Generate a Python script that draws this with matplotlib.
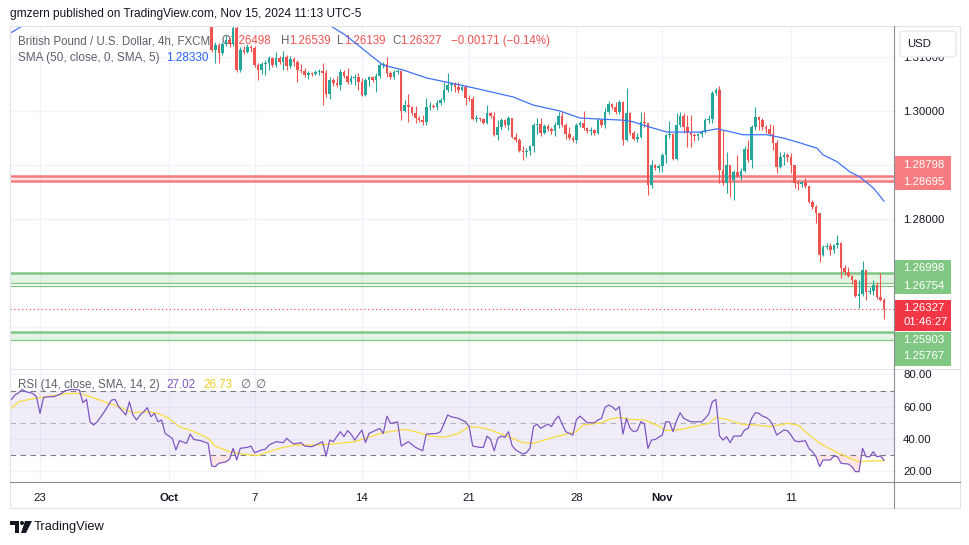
import numpy as np
import matplotlib.pyplot as plt
from matplotlib.patches import Rectangle, FancyBboxPatch, Polygon, Circle
from matplotlib.lines import Line2D
from matplotlib.transforms import IdentityTransform

plt.rcParams['font.family'] = ['Liberation Sans', 'DejaVu Sans']

W, H = 970, 545

# GBP/USD 4h candles, bar 0 = first candle of Sep 23
first_bar = 48
# closes from bar 47 to bar 236 (open of a bar = previous close)
close_px = [
    1.3168, 1.3113, 1.3122, 1.3107, 1.3124, 1.3131, 1.3124, 1.3154, 1.3076, 1.3113,
    1.3109, 1.3118, 1.3117, 1.3085, 1.3076, 1.3087, 1.3089, 1.3098, 1.3085, 1.3098,
    1.3091, 1.3100, 1.3083, 1.3096, 1.3091, 1.3076, 1.3075, 1.3067, 1.3070, 1.3069,
    1.3072, 1.3074, 1.3070, 1.3031, 1.3057, 1.3052, 1.3048, 1.3072, 1.3065, 1.3054,
    1.3061, 1.3063, 1.3054, 1.3030, 1.3057, 1.3063, 1.3057, 1.3065, 1.3085, 1.3087,
    1.3070, 1.3063, 1.3072, 1.3074, 1.3000, 1.3011, 1.3007, 1.2996, 1.2987, 1.2983,
    1.2980, 1.3007, 1.3009, 1.3008, 1.3015, 1.3020, 1.3039, 1.3048, 1.3050, 1.3044,
    1.3039, 1.3044, 1.3024, 1.3022, 1.2985, 1.2987, 1.2985, 1.2978, 1.2996, 1.2991,
    1.2956, 1.2970, 1.2983, 1.2974, 1.2987, 1.2952, 1.2946, 1.2926, 1.2924, 1.2926,
    1.2935, 1.2974, 1.2976, 1.2959, 1.2972, 1.2967, 1.2963, 1.2974, 1.2991, 1.2974,
    1.2957, 1.2950, 1.2946, 1.2974, 1.2978, 1.2969, 1.2963, 1.2965, 1.2959, 1.2983,
    1.2974, 1.2998, 1.3013, 1.3007, 1.2998, 1.3017, 1.2946, 1.2996, 1.2959, 1.2948,
    1.2952, 1.2980, 1.2978, 1.2863, 1.2900, 1.2894, 1.2898, 1.2919, 1.2956, 1.2957,
    1.2911, 1.2974, 1.2991, 1.2970, 1.2959, 1.2956, 1.2954, 1.2957, 1.2961, 1.2983,
    1.2985, 1.3033, 1.3039, 1.2891, 1.2867, 1.2900, 1.2872, 1.2887, 1.2880, 1.2889,
    1.2930, 1.2909, 1.2970, 1.2989, 1.2983, 1.2970, 1.2967, 1.2957, 1.2941, 1.2896,
    1.2915, 1.2919, 1.2915, 1.2900, 1.2867, 1.2865, 1.2869, 1.2861, 1.2831, 1.2822,
    1.2811, 1.2733, 1.2748, 1.2750, 1.2743, 1.2752, 1.2756, 1.2709, 1.2702, 1.2694,
    1.2687, 1.2657, 1.2661, 1.2706, 1.2665, 1.2667, 1.2678, 1.2656, 1.26498, 1.26327,
]
# highs and lows from bar 48 to bar 236
high_px = [
    1.3168, 1.3128, 1.3126, 1.3128, 1.3141, 1.3135, 1.3168, 1.3157, 1.3119, 1.3120,
    1.3124, 1.3122, 1.3120, 1.3089, 1.3091, 1.3094, 1.3102, 1.3100, 1.3109, 1.3102,
    1.3111, 1.3104, 1.3102, 1.3100, 1.3094, 1.3087, 1.3080, 1.3074, 1.3072, 1.3076,
    1.3078, 1.3089, 1.3076, 1.3063, 1.3061, 1.3065, 1.3078, 1.3076, 1.3080, 1.3067,
    1.3069, 1.3070, 1.3061, 1.3061, 1.3065, 1.3065, 1.3070, 1.3089, 1.3091, 1.3100,
    1.3074, 1.3076, 1.3078, 1.3076, 1.3020, 1.3031, 1.3009, 1.3009, 1.2991, 1.2993,
    1.3024, 1.3017, 1.3013, 1.3020, 1.3024, 1.3054, 1.3070, 1.3054, 1.3054, 1.3054,
    1.3050, 1.3048, 1.3030, 1.3028, 1.2993, 1.2989, 1.2987, 1.3011, 1.2998, 1.2998,
    1.2983, 1.2987, 1.2985, 1.2991, 1.2987, 1.2959, 1.2950, 1.2935, 1.2931, 1.2937,
    1.2978, 1.2987, 1.2987, 1.2976, 1.2976, 1.2970, 1.2980, 1.2998, 1.2998, 1.2978,
    1.2970, 1.2954, 1.2978, 1.2981, 1.3000, 1.2970, 1.2970, 1.2967, 1.2987, 1.2985,
    1.3006, 1.3019, 1.3015, 1.3017, 1.3020, 1.3019, 1.3043, 1.2998, 1.2963, 1.2959,
    1.2998, 1.2998, 1.2978, 1.2909, 1.2902, 1.2902, 1.2922, 1.2957, 1.2981, 1.2959,
    1.2996, 1.2998, 1.2996, 1.2993, 1.2993, 1.2959, 1.2959, 1.2965, 1.2987, 1.2993,
    1.3037, 1.3043, 1.3046, 1.2965, 1.2924, 1.2900, 1.2891, 1.2919, 1.2894, 1.2935,
    1.2946, 1.2974, 1.3007, 1.2991, 1.2987, 1.2974, 1.2976, 1.2974, 1.2946, 1.2924,
    1.2924, 1.2922, 1.2922, 1.2900, 1.2872, 1.2870, 1.2876, 1.2861, 1.2835, 1.2826,
    1.2811, 1.2752, 1.2756, 1.2756, 1.2754, 1.2770, 1.2757, 1.2715, 1.2711, 1.2696,
    1.2689, 1.2687, 1.2722, 1.2706, 1.2674, 1.2687, 1.2683, 1.2700, 1.26539,
]
low_px = [
    1.3109, 1.3089, 1.3089, 1.3104, 1.3120, 1.3119, 1.3120, 1.3072, 1.3072, 1.3106,
    1.3107, 1.3109, 1.3081, 1.3057, 1.3069, 1.3067, 1.3076, 1.3081, 1.3081, 1.3087,
    1.3076, 1.3076, 1.3080, 1.3083, 1.3054, 1.3070, 1.3063, 1.3059, 1.3065, 1.3067,
    1.3067, 1.3011, 1.3026, 1.3022, 1.3046, 1.3044, 1.3039, 1.3061, 1.3050, 1.3050,
    1.3048, 1.3039, 1.3028, 1.3028, 1.3046, 1.3054, 1.3035, 1.3061, 1.3080, 1.3063,
    1.3059, 1.3059, 1.3069, 1.2983, 1.2998, 1.2980, 1.2993, 1.2978, 1.2980, 1.2974,
    1.2974, 1.3002, 1.3006, 1.3002, 1.3011, 1.3017, 1.3035, 1.3037, 1.3035, 1.3033,
    1.3037, 1.3011, 1.3019, 1.2983, 1.2980, 1.2981, 1.2976, 1.2976, 1.2987, 1.2954,
    1.2946, 1.2965, 1.2970, 1.2965, 1.2950, 1.2943, 1.2924, 1.2909, 1.2915, 1.2919,
    1.2924, 1.2957, 1.2954, 1.2957, 1.2963, 1.2957, 1.2954, 1.2969, 1.2970, 1.2948,
    1.2946, 1.2943, 1.2941, 1.2970, 1.2965, 1.2959, 1.2956, 1.2956, 1.2957, 1.2970,
    1.2969, 1.2994, 1.3004, 1.2994, 1.2994, 1.2937, 1.2944, 1.2956, 1.2946, 1.2943,
    1.2950, 1.2970, 1.2844, 1.2857, 1.2891, 1.2887, 1.2887, 1.2904, 1.2950, 1.2909,
    1.2909, 1.2970, 1.2959, 1.2933, 1.2933, 1.2944, 1.2946, 1.2952, 1.2959, 1.2978,
    1.2978, 1.3030, 1.2867, 1.2863, 1.2848, 1.2841, 1.2835, 1.2878, 1.2872, 1.2887,
    1.2906, 1.2894, 1.2965, 1.2965, 1.2965, 1.2959, 1.2956, 1.2928, 1.2885, 1.2894,
    1.2900, 1.2906, 1.2885, 1.2857, 1.2854, 1.2859, 1.2857, 1.2830, 1.2819, 1.2793,
    1.2720, 1.2731, 1.2744, 1.2733, 1.2737, 1.2746, 1.2691, 1.2696, 1.2693, 1.2680,
    1.2656, 1.2635, 1.2657, 1.2650, 1.2661, 1.2659, 1.2652, 1.2648, 1.26139,
]

# SMA(50) of close, (bar, value)
sma_points = [
    (-8.4, 1.3144), (-5.3, 1.3156), (-3.5, 1.3162), (80, 1.3168), (81.4, 1.3157),
    (85.3, 1.3141), (89.5, 1.3119), (95.9, 1.3085), (101.5, 1.3076), (108.2, 1.3061),
    (114.7, 1.3052), (121.1, 1.3043), (132.3, 1.3026), (137.9, 1.3011), (145.4, 1.3000),
    (151, 1.2987), (156.6, 1.2985), (163, 1.2983), (165.8, 1.2980), (170.6, 1.2970),
    (175.3, 1.2961), (184.6, 1.2961), (189.3, 1.2967), (192.1, 1.2963), (196.6, 1.2956),
    (203.3, 1.2956), (207.8, 1.2950), (212.5, 1.2941), (217.3, 1.2931), (218.9, 1.2919),
    (222.9, 1.2906), (226.5, 1.2887), (229.2, 1.2878), (233.1, 1.2857), (236, 1.2833),
]

# RSI(14), (bar, value)
rsi_points = [
    (-8, 64.5), (-7, 67.2), (-6, 68.6), (-5, 70.7), (-4, 69.3), (-2, 68.2), (-1, 66.2),
    (0, 55.9), (1, 65.8), (3, 66.2), (4, 66.2), (6, 68.2), (7, 69.9), (9, 70.7),
    (11, 70.3), (12, 62.5), (13, 64.5), (14, 50.7), (15, 48.7), (16, 50.7), (18, 56.9),
    (20, 64.1), (21, 64.5), (22, 60.0), (24, 54.9), (25, 63.1), (26, 54.9), (27, 51.8),
    (28, 54.9), (29, 56.9), (30, 59.4), (31, 53.8), (32, 55.9), (33, 50.7), (34, 51.8),
    (35, 43.5), (36, 41.9), (37, 40.5), (38, 33.3), (39, 39.0), (41, 37.4), (42, 43.1),
    (43, 39.8), (45, 39.0), (47, 37.4), (48, 23.4), (49, 23.0), (50, 25.0), (52, 26.0),
    (53, 27.5), (54, 34.3), (55, 27.1), (56, 34.3), (58, 34.9), (59, 35.7), (60, 31.6),
    (62, 33.3), (63, 33.7), (64, 36.3), (66, 38.4), (68, 37.8), (69, 40.5), (70, 38.4),
    (71, 37.0), (73, 37.8), (74, 35.7), (76, 35.3), (77, 36.3), (79, 38.4), (80, 29.5),
    (81, 39.4), (82, 38.4), (84, 44.6), (85, 41.5), (86, 45.2), (87, 43.1), (88, 39.4),
    (90, 45.6), (91, 37.8), (92, 43.5), (94, 45.6), (95, 46.6), (96, 43.5), (97, 54.2),
    (98, 49.7), (99, 50.1), (100, 50.7), (101, 35.7), (103, 38.4), (105, 34.9), (107, 32.8),
    (108, 43.1), (111, 43.5), (112, 44.6), (114, 54.9), (115, 53.8), (117, 52.8), (119, 50.7),
    (120, 47.7), (121, 35.7), (123, 34.9), (124, 34.9), (125, 41.9), (126, 39.8), (127, 32.8),
    (128, 40.5), (129, 41.9), (130, 41.1), (131, 44.6), (132, 36.0), (133, 33.3), (135, 30.8),
    (136, 31.6), (137, 34.3), (138, 47.7), (139, 49.3), (140, 46.6), (142, 49.3), (143, 47.7),
    (144, 51.8), (145, 54.2), (147, 44.6), (149, 42.5), (150, 52.0), (151, 54.2), (152, 52.2),
    (153, 50.1), (155, 50.1), (156, 51.8), (157, 52.8), (158, 59.6), (159, 61.0), (160, 60.0),
    (161, 57.9), (162, 60.0), (163, 43.1), (164, 52.8), (165, 46.6), (166, 44.6), (167, 45.2),
    (168, 50.7), (169, 49.5), (170, 34.3), (171, 39.4), (172, 39.8), (174, 42.5), (175, 50.7),
    (176, 50.7), (177, 44.6), (178, 51.4), (179, 56.3), (180, 52.8), (182, 50.7), (185, 50.7),
    (186, 52.8), (187, 55.5), (188, 63.1), (189, 64.5), (190, 42.0), (191, 39.4), (192, 41.5),
    (193, 37.8), (194, 41.9), (196, 41.9), (197, 45.6), (198, 46.6), (199, 52.8), (200, 56.3),
    (201, 55.9), (202, 54.2), (203, 53.4), (204, 51.8), (205, 48.1), (206, 42.5), (207, 44.0),
    (208, 45.6), (209, 45.2), (210, 42.5), (211, 39.0), (212, 38.4), (214, 39.0), (215, 34.3),
    (216, 32.2), (217, 29.1), (218, 23.0), (219, 27.1), (221, 27.1), (222, 29.5), (223, 29.1),
    (224, 25.0), (226, 24.6), (227, 23.0), (228, 19.9), (229, 19.9), (230, 34.3), (231, 29.1),
    (232, 29.1), (233, 32.2), (234, 29.1), (235, 29.5), (236, 27.0),
]

# SMA(14) of RSI, (bar, value)
rsi_ma_points = [
    (-8, 59.0), (-6, 63.0), (-3, 64.5), (3, 66.6), (8, 68.2), (11, 68.2), (14, 66.2),
    (18, 63.1), (22, 60.0), (26, 56.3), (30, 56.9), (33, 55.9), (36, 52.8), (39, 47.7),
    (43, 44.6), (47, 40.5), (49, 35.7), (53, 32.2), (57, 30.6), (61, 29.8), (63, 31.6),
    (67, 34.3), (71, 36.3), (76, 36.3), (82, 37.0), (88, 38.4), (91, 40.5), (96, 44.0),
    (102, 46.0), (105, 44.6), (109, 41.9), (113, 41.1), (117, 43.5), (120, 47.7), (123, 47.2),
    (126, 45.6), (131, 41.5), (135, 37.8), (138, 37.4), (141, 39.4), (145, 41.9), (150, 44.6),
    (152, 48.7), (157, 50.1), (159, 52.2), (162, 53.4), (165, 52.2), (169, 51.8), (173, 48.1),
    (175, 45.2), (179, 46.0), (183, 47.7), (187, 49.7), (189, 53.4), (192, 52.2), (196, 49.3),
    (200, 48.7), (204, 47.7), (209, 49.7), (212, 48.7), (214, 44.6), (218, 37.4), (223, 31.6),
    (226, 28.7), (229, 26.0), (232, 26.5), (236, 26.7),
]

red_zone = [1.28798, 1.28695]
green_zone_hi = [1.26998, 1.26810]
green_line_hi = 1.26754
green_zone_lo = [1.25903, 1.25767]
last_price = 1.26327

date_bars = [0, 36, 60, 90, 120, 150, 174, 210]
date_labels = ['23', 'Oct', '7', '14', '21', '28', 'Nov', '11']
price_ticks = [1.26, 1.27, 1.28, 1.29, 1.30, 1.31]
price_shown = [1.28, 1.30, 1.31]   # the others sit under the level labels
rsi_ticks = [20, 40, 60, 80]

GREEN = '#26a69a'
RED = '#ef5350'
GRID = '#f0f3fa'
TXT = '#131722'
LEG = '#5d606b'

fig = plt.figure(figsize=(W / 100, H / 100), dpi=100)
PIX = IdentityTransform()


def py(y):
    return H - y


ax = fig.add_axes([10 / W, 1 - 368 / H, 884 / W, 341 / H])
axr = fig.add_axes([10 / W, 1 - 482 / H, 884 / W, 113 / H])

for a in (ax, axr):
    for s in a.spines.values():
        s.set_visible(False)
    a.set_xlim(-8.39, 238.8)
    a.set_xticks(date_bars)
    a.grid(True, color=GRID, lw=1)
    a.set_axisbelow(True)
    a.yaxis.tick_right()
    a.tick_params(length=0, pad=6.5, labelsize=8.2, labelcolor=TXT)

# ---- price pane
ax.set_ylim(1.252407, 1.315556)
ax.set_yticks(price_ticks)
ax.set_yticklabels(['%.5f' % p if p in price_shown else '' for p in price_ticks])
ax.tick_params(labelbottom=False)

closes = np.array(close_px)
opens = closes[:-1]
cl = closes[1:]
hi = np.array(high_px)
lo = np.array(low_px)
bars = np.arange(first_bar, first_bar + len(cl))
cols = np.where(cl >= opens, GREEN, RED)
top = np.maximum(hi, np.maximum(opens, cl))
bot = np.minimum(lo, np.minimum(opens, cl))
ax.vlines(bars, bot, top, colors=cols, lw=0.8, zorder=4)
body_h = np.maximum(np.abs(cl - opens), 0.00004)
ax.bar(bars, body_h, bottom=np.minimum(opens, cl), width=0.72, color=cols,
       linewidth=0, zorder=5)

ax.axhspan(red_zone[1], red_zone[0], color='#f7525f', alpha=0.15, lw=0, zorder=2)
for lv in red_zone:
    ax.axhline(lv, color='#f77c80', lw=1.8, zorder=3)
ax.axhspan(green_zone_hi[1], green_zone_hi[0], color='#4caf50', alpha=0.15, lw=0, zorder=2)
ax.axhline(green_zone_hi[0], color='#81c784', lw=1.8, zorder=3)
ax.axhline(green_zone_hi[1], color='#81c784', lw=0.9, zorder=3)
ax.axhline(green_line_hi, color='#81c784', lw=0.9, zorder=3)
ax.axhspan(green_zone_lo[1], green_zone_lo[0], color='#4caf50', alpha=0.15, lw=0, zorder=2)
ax.axhline(green_zone_lo[0], color='#81c784', lw=1.8, zorder=3)
ax.axhline(green_zone_lo[1], color='#81c784', lw=0.9, zorder=3)
ax.axhline(last_price, color='#f23645', lw=0.8, ls=(0, (1, 2.5)), zorder=3)

sb, sv = zip(*sma_points)
ax.plot(sb, sv, color='#3f72f5', lw=0.9, zorder=6)

# ---- RSI pane
axr.set_ylim(13.5, 83.3)
axr.set_yticks(rsi_ticks)
axr.set_yticklabels(['%.2f' % v for v in rsi_ticks])
axr.set_xticklabels(date_labels)
axr.tick_params(axis='x', pad=8)
for t in axr.get_xticklabels():
    if t.get_text() in ('Oct', 'Nov'):
        t.set_fontweight('bold')

axr.axhspan(30, 70, color='#7e57c2', alpha=0.1, lw=0, zorder=1)
axr.axhline(70, color='#787b86', lw=0.8, ls=(0, (5, 4)), zorder=2)
axr.axhline(30, color='#787b86', lw=0.8, ls=(0, (5, 4)), zorder=2)
axr.axhline(50, color='#787b86', lw=0.8, ls=(0, (5, 4)), alpha=0.5, zorder=2)

rb, rv = map(np.array, zip(*rsi_points))
mb, mv = zip(*rsi_ma_points)
axr.fill_between(rb, rv, 30, where=rv < 30, interpolate=True, color='#f23645',
                 alpha=0.13, lw=0, zorder=2)
axr.plot(mb, mv, color='#f7dc3c', lw=0.9, zorder=3)
axr.plot(rb, rv, color='#7e57c2', lw=0.9, zorder=4)

# ---- frame lines
fig.add_artist(Rectangle((10, py(508)), 950, 482, transform=PIX, fill=False,
                         ec='#e0e3eb', lw=0.8))
fig.add_artist(Line2D([10, 960], [py(368.5), py(368.5)], transform=PIX, color='#e0e3eb', lw=0.8))
fig.add_artist(Line2D([10, 960], [py(482), py(482)], transform=PIX, color='#8a8d96', lw=0.8))
fig.add_artist(Line2D([894, 894], [py(26), py(508)], transform=PIX, color='#8a8d96', lw=0.8))

# ---- price scale labels
fig.add_artist(FancyBboxPatch((900, py(57)), 56, 26, transform=PIX,
                              boxstyle='round,pad=0,rounding_size=4',
                              fc='white', ec='#e0e3eb', lw=0.8))
fig.text(907, py(44), 'USD', transform=PIX, fontsize=8.2, color=TXT, va='center')

boxes = [
    (156, 190, '#f77c80', [('%.5f' % red_zone[0], 165), ('%.5f' % red_zone[1], 182)]),
    (260, 294, '#81c784', [('%.5f' % green_zone_hi[0], 268), ('%.5f' % green_line_hi, 286)]),
    (300, 331, '#f23645', [('%.5f' % last_price, 308), ('01:46:27', 322)]),
    (332, 366, '#81c784', [('%.5f' % green_zone_lo[0], 340), ('%.5f' % green_zone_lo[1], 356)]),
]
for y0, y1, c, lines in boxes:
    fig.add_artist(Rectangle((894, py(y1)), 57, y1 - y0, transform=PIX, fc=c, lw=0))
    for s, yy in lines:
        fig.text(903, py(yy), s, transform=PIX, fontsize=8.2, color='white', va='center')

# ---- legends (under the candles)
def legend_text(x, y, s, c, size=8.3):
    ax.text(x, py(y), s, transform=PIX, color=c, fontsize=size, va='center',
            ha='left', zorder=1, clip_on=False)


legend_text(18, 41, 'British Pound / U.S. Dollar, 4h, FXCM', LEG)
for x, s, c in [(222, 'O', LEG), (229, '1.26498', RED), (281, 'H', LEG), (289, '1.26539', RED),
                (337, 'L', LEG), (344, '1.26139', RED), (392, 'C', LEG), (400, '1.26327', RED),
                (451, '\u22120.00171 (\u22120.14%)', RED)]:
    legend_text(x, 41, s, c)
legend_text(18, 58, 'SMA (50, close, 0, SMA, 5)', LEG, 8.5)
legend_text(166, 58, '1.28330', '#2962ff', 8.5)

for x, s, c in [(18, 'RSI (14, close, SMA, 14, 2)', LEG), (166, '27.02', '#7e57c2'),
                (203, '26.73', '#f0d020'), (240, '\u2205', LEG), (255, '\u2205', LEG)]:
    axr.text(x, py(385), s, transform=PIX, color=c, fontsize=8.4, va='center',
             ha='left', zorder=5, clip_on=False)

# ---- header and footer
fig.text(10, py(14), 'gmzern published on TradingView.com, Nov 15, 2024 11:13 UTC-5',
         transform=PIX, fontsize=8.6, color=TXT, va='center')

fig.add_artist(Polygon([(10, py(521)), (19, py(521)), (19, py(533)), (15, py(533)),
                        (15, py(525)), (10, py(525))], closed=True, transform=PIX,
                       fc=TXT, lw=0))
fig.add_artist(Circle((22, py(523)), 2, transform=PIX, fc=TXT, lw=0))
fig.add_artist(Polygon([(25, py(521)), (32, py(521)), (26, py(533)), (21, py(533))],
                       closed=True, transform=PIX, fc=TXT, lw=0))
fig.text(34, py(527), 'TradingView', transform=PIX, fontsize=9.3, color=TXT, va='center')

fig.savefig('out.png', dpi=100)
